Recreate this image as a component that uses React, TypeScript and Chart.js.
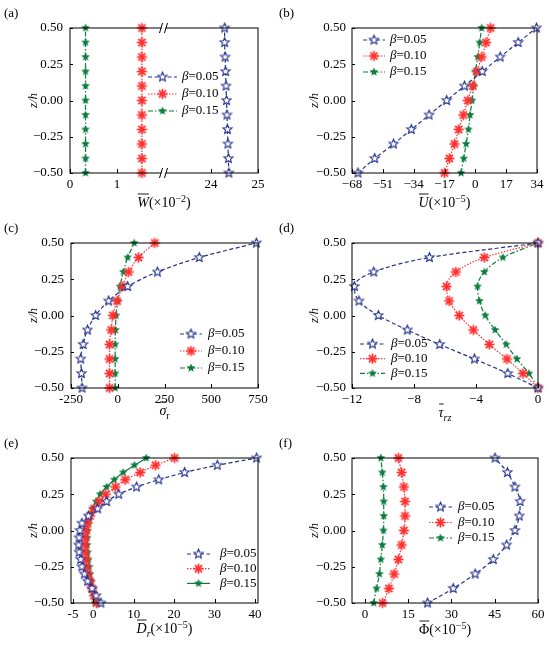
import React, { useEffect, useRef } from 'react';
import Chart from 'chart.js/auto';

// z/h positions of the markers
const zCoarse = [-0.5, -0.4, -0.3, -0.2, -0.1, 0, 0.1, 0.2, 0.3, 0.4, 0.5];
const zFine = [-0.5, -0.45, -0.4, -0.35, -0.3, -0.25, -0.2, -0.15, -0.1, -0.05, 0, 0.05, 0.1, 0.15, 0.2, 0.25, 0.3, 0.35, 0.4, 0.45, 0.5];
const zTicks = [-0.5, -0.25, 0, 0.25, 0.5];
const betaLabels = ['0.05', '0.10', '0.15'];

// (a) W (x1e-2), broken axis 0..2 // 23..25
const wB05 = [24.38, 24.37, 24.36, 24.35, 24.34, 24.33, 24.32, 24.31, 24.3, 24.29, 24.29];
const wB10 = [1.53, 1.53, 1.53, 1.53, 1.53, 1.53, 1.53, 1.53, 1.53, 1.53, 1.53];
const wB15 = [0.33, 0.33, 0.33, 0.33, 0.33, 0.33, 0.33, 0.33, 0.33, 0.33, 0.33];
const wTicks = [0, 1, 24, 25];

// (b) U (x1e-5)
const uB05 = [-64.7, -55.5, -45.1, -35.3, -25.5, -15.8, -6.0, 3.8, 13.7, 23.6, 33.7];
const uB10 = [-17.0, -14.3, -11.5, -9.2, -6.6, -4.2, -1.5, 0.9, 3.5, 5.9, 8.4];
const uB15 = [-7.9, -6.4, -5.1, -3.8, -2.9, -1.8, -0.9, 0.0, 1.3, 2.4, 3.5];
const uTicks = [-68, -51, -34, -17, 0, 17, 34];

// (c) sigma_r
const sB05 = [-191, -194, -198, -185, -162, -118, -49, 53, 212, 436, 741];
const sB10 = [-44, -44, -44, -44, -35, -26, -4, 26, 58, 111, 198];
const sB15 = [-14, -14, -14, -14, -12, -9, 0, 12, 30, 53, 88];
const sTicks = [-250, 0, 250, 500, 750];

// (d) tau_rz
const tB05 = [0, -1.95, -4.1, -6.34, -8.43, -10.3, -11.55, -11.85, -10.6, -7.0, 0];
const tB10 = [0, -0.97, -2.0, -3.14, -4.17, -5.08, -5.73, -5.9, -5.3, -3.46, 0];
const tB15 = [0, -0.58, -1.36, -2.05, -2.77, -3.4, -3.78, -3.9, -3.46, -2.27, 0];
const tTicks = [-12, -8, -4, 0];

// (e) D_r (x1e-5)
const dB05 = [1.9, 0.7, -0.3, -1.4, -2.2, -2.8, -3.1, -3.5, -3.6, -3.5, -3.3, -2.8, -1.2, 1.1, 3.3, 6.3, 10.7, 16.2, 22.6, 30.7, 40.4];
const dB10 = [0.8, 0.2, -0.3, -0.8, -1.3, -1.7, -1.8, -2.0, -2.1, -2.0, -1.8, -1.4, -0.8, 0.2, 1.5, 3.1, 5.5, 7.9, 11.6, 15.4, 20.1];
const dB15 = [0.5, 0.2, -0.2, -0.5, -0.8, -1.0, -1.2, -1.4, -1.5, -1.5, -1.4, -1.2, -0.8, -0.2, 0.7, 1.7, 3.3, 5.2, 7.4, 10.2, 13.1];
const dTicks = [-5, 0, 10, 20, 30, 40];

// (f) Phi (x1e-5)
const fB05 = [21.7, 30.6, 38.2, 44.5, 49.1, 52.0, 53.5, 53.8, 52.0, 49.4, 45.1];
const fB10 = [6.1, 8.3, 10.1, 11.6, 12.7, 13.5, 13.9, 13.9, 13.5, 12.7, 11.6];
const fB15 = [3.0, 4.0, 5.0, 5.5, 6.0, 6.4, 6.5, 6.5, 6.4, 6.0, 5.5];
const fTicks = [0, 15, 30, 45, 60];

const BLUE = '#24328f';
const RED = '#ff3030';
const GREEN = '#0b7d3e';
const SERIF = '"Liberation Serif", "Times New Roman", serif';
const font = (size: number, it?: boolean) => `${it ? 'italic ' : ''}${size}px ${SERIF}`;

function starMarker(R: number, filled: boolean, color: string) {
  const s = Math.ceil(R * 2 + 3);
  const c = document.createElement('canvas');
  c.width = s;
  c.height = s;
  const g = c.getContext('2d')!;
  g.translate(s / 2, s / 2);
  g.beginPath();
  for (let i = 0; i < 10; i++) {
    const r = i % 2 ? R * 0.45 : R;
    const a = -Math.PI / 2 + (i * Math.PI) / 5;
    g.lineTo(r * Math.cos(a), r * Math.sin(a));
  }
  g.closePath();
  if (filled) {
    g.fillStyle = color;
    g.fill();
  } else {
    g.fillStyle = '#fff';
    g.fill();
    g.strokeStyle = color;
    g.lineWidth = 1.1;
    g.stroke();
  }
  return c;
}

function asteriskMarker(R: number, color: string) {
  const s = Math.ceil(R * 2 + 3);
  const c = document.createElement('canvas');
  c.width = s;
  c.height = s;
  const g = c.getContext('2d')!;
  g.translate(s / 2, s / 2);
  g.strokeStyle = color;
  g.lineWidth = 1.8;
  for (let k = 0; k < 4; k++) {
    const a = (k * Math.PI) / 4;
    g.beginPath();
    g.moveTo(-R * Math.cos(a), -R * Math.sin(a));
    g.lineTo(R * Math.cos(a), R * Math.sin(a));
    g.stroke();
  }
  return c;
}

const markers = [starMarker(4.8, false, BLUE), asteriskMarker(5, RED), starMarker(4.5, true, GREEN)];
const dashes = [[4, 2.5], [1.5, 1.5], [5, 2, 1.5, 2]];
const colors = [BLUE, RED, GREEN];

type Seg = { t: string; it?: boolean; sup?: boolean; sub?: boolean; bar?: boolean };

type PanelSpec = {
  label: string;
  left: number;
  top: number;
  w: number;
  h: number;
  plotL: number;
  plotR: number;
  yTitleX: number;
  yPad: number;
  xMin: number;
  xMax: number;
  xTicks: number[];
  xFmt: (v: number) => string;
  xMap?: (v: number) => number;
  z: number[];
  series: number[][];
  title: Seg[];
  titleY: number;
  legend: { x0: number; x1: number; tx: number; y: number; dy: number };
  greenSolid?: boolean;
  brk?: number;
};

const minus = (v: number) => (v < 0 ? '\u2212' : '') + Math.abs(v);
const hyphen = (v: number) => String(v);
const breakMap = (v: number) => (v > 2 ? v - 21 : v);

const panels: PanelSpec[] = [
  {
    label: '(a)', left: 0, top: 0, w: 275, h: 215, plotL: 70, plotR: 258, yTitleX: 33.5, yPad: 7,
    xMin: 0, xMax: 4, xTicks: wTicks, xFmt: (v) => String(v > 2 ? v + 21 : v), xMap: breakMap,
    z: zCoarse, series: [wB05, wB10, wB15],
    title: [{ t: 'W', it: true, bar: true }, { t: '(\u00d710' }, { t: '\u22122', sup: true }, { t: ')' }],
    titleY: 207, legend: { x0: 148, x1: 177, tx: 182, y: 77, dy: 17 }, brk: 2,
  },
  {
    label: '(b)', left: 275, top: 0, w: 275, h: 215, plotL: 77, plotR: 262, yTitleX: 39.5, yPad: 6,
    xMin: -68, xMax: 34, xTicks: uTicks, xFmt: minus,
    z: zCoarse, series: [uB05, uB10, uB15],
    title: [{ t: 'U', it: true, bar: true }, { t: '(\u00d710' }, { t: '\u22125', sup: true }, { t: ')' }],
    titleY: 207, legend: { x0: 88, x1: 110, tx: 115, y: 40, dy: 16 },
  },
  {
    label: '(c)', left: 0, top: 215, w: 275, h: 215, plotL: 71, plotR: 258, yTitleX: 33.5, yPad: 7,
    xMin: -250, xMax: 750, xTicks: sTicks, xFmt: hyphen,
    z: zCoarse, series: [sB05, sB10, sB15],
    title: [{ t: '\u03c3', it: true, bar: true }, { t: 'r', sub: true }],
    titleY: 200, legend: { x0: 180, x1: 202, tx: 208, y: 119, dy: 17 },
  },
  {
    label: '(d)', left: 275, top: 215, w: 275, h: 215, plotL: 77, plotR: 263, yTitleX: 39.5, yPad: 6,
    xMin: -12, xMax: 0, xTicks: tTicks, xFmt: minus,
    z: zCoarse, series: [tB05, tB10, tB15],
    title: [{ t: '\u03c4', it: true, bar: true }, { t: 'rz', it: true, sub: true }],
    titleY: 202, legend: { x0: 85, x1: 110, tx: 116, y: 129, dy: 14.7 },
  },
  {
    label: '(e)', left: 0, top: 430, w: 275, h: 217, plotL: 71, plotR: 258, yTitleX: 33.5, yPad: 7,
    xMin: -5.5, xMax: 40.75, xTicks: dTicks, xFmt: hyphen,
    z: zFine, series: [dB05, dB10, dB15],
    title: [{ t: 'D', it: true, bar: true }, { t: 'r', it: true, sub: true }, { t: '(\u00d710' }, { t: '\u22125', sup: true }, { t: ')' }],
    titleY: 203, legend: { x0: 187, x1: 210, tx: 220, y: 124, dy: 14.7 }, greenSolid: true,
  },
  {
    label: '(f)', left: 275, top: 430, w: 275, h: 217, plotL: 77, plotR: 263, yTitleX: 39.5, yPad: 6,
    xMin: -4.5, xMax: 60, xTicks: fTicks, xFmt: hyphen,
    z: zCoarse, series: [fB05, fB10, fB15],
    title: [{ t: '\u03a6', bar: true }, { t: '(\u00d710' }, { t: '\u22125', sup: true }, { t: ')' }],
    titleY: 204, legend: { x0: 154, x1: 177, tx: 183, y: 77, dy: 15.5 },
  },
];

function drawRich(ctx: CanvasRenderingContext2D, segs: Seg[], cx: number, baseY: number) {
  const segFont = (s: Seg) => font(s.sup || s.sub ? 10 : 14, s.it);
  const widths = segs.map((s) => {
    ctx.font = segFont(s);
    return ctx.measureText(s.t).width;
  });
  const total = widths.reduce((a, b) => a + b, 0);
  let x = cx - total / 2;
  ctx.textAlign = 'left';
  ctx.textBaseline = 'alphabetic';
  segs.forEach((s, i) => {
    ctx.font = segFont(s);
    const dy = s.sup ? -5.5 : s.sub ? 3.5 : 0;
    ctx.fillText(s.t, x, baseY + dy);
    if (s.bar) {
      ctx.beginPath();
      ctx.lineWidth = 0.9;
      ctx.moveTo(x + 0.5, baseY - 13);
      ctx.lineTo(x + widths[i], baseY - 13);
      ctx.stroke();
    }
    x += widths[i];
  });
}

const decoPlugin = {
  id: 'deco',
  afterDraw(chart: any, _args: any, o: any) {
    const p: PanelSpec = o.spec;
    const { ctx, chartArea: a } = chart;
    const xs = chart.scales.x;
    const ys = chart.scales.y;
    ctx.save();
    ctx.strokeStyle = '#000';
    ctx.fillStyle = '#000';
    ctx.setLineDash([]);
    ctx.lineWidth = 1;
    ctx.strokeRect(a.left, a.top, a.right - a.left, a.bottom - a.top);

    // inward ticks
    ctx.beginPath();
    xs.ticks.forEach((t: any) => {
      const px = Math.round(xs.getPixelForValue(t.value)) + 0.5;
      ctx.moveTo(px, a.bottom);
      ctx.lineTo(px, a.bottom - 4);
    });
    ys.ticks.forEach((t: any) => {
      const py = Math.round(ys.getPixelForValue(t.value)) + 0.5;
      ctx.moveTo(a.left, py);
      ctx.lineTo(a.left + 3, py);
    });
    ctx.stroke();

    // axis break
    if (p.brk !== undefined) {
      const px = xs.getPixelForValue(p.brk);
      [a.top, a.bottom].forEach((y: number) => {
        ctx.fillStyle = '#fff';
        ctx.fillRect(px - 2.5, y - 1.5, 4, 3);
        ctx.beginPath();
        ctx.moveTo(px - 4.5, y + 5);
        ctx.lineTo(px - 1.5, y - 5);
        ctx.moveTo(px + 0.5, y + 5);
        ctx.lineTo(px + 3.5, y - 5);
        ctx.stroke();
      });
      ctx.fillStyle = '#000';
    }

    // panel label
    ctx.font = font(13);
    ctx.textAlign = 'left';
    ctx.textBaseline = 'middle';
    ctx.fillText(p.label, 4, 14);

    // y title
    ctx.save();
    ctx.translate(p.yTitleX, (a.top + a.bottom) / 2);
    ctx.rotate(-Math.PI / 2);
    ctx.textAlign = 'center';
    ctx.textBaseline = 'middle';
    ctx.font = font(13, true);
    ctx.fillText('z/h', 0, 0);
    ctx.restore();

    // x title
    drawRich(ctx, p.title, (a.left + a.right) / 2, p.titleY);

    // legend
    const L = p.legend;
    betaLabels.forEach((b, i) => {
      const y = L.y + i * L.dy;
      ctx.strokeStyle = colors[i];
      ctx.lineWidth = 1.2;
      ctx.setLineDash(i === 2 && p.greenSolid ? [] : dashes[i]);
      ctx.beginPath();
      ctx.moveTo(L.x0, y);
      ctx.lineTo(L.x1, y);
      ctx.stroke();
      ctx.setLineDash([]);
      const m = markers[i];
      ctx.drawImage(m, (L.x0 + L.x1) / 2 - m.width / 2, y - m.height / 2);
      ctx.fillStyle = '#000';
      ctx.textAlign = 'left';
      ctx.textBaseline = 'middle';
      ctx.font = font(13, true);
      ctx.fillText('\u03b2', L.tx, y);
      const bw = ctx.measureText('\u03b2').width;
      ctx.font = font(13);
      ctx.fillText('=' + b, L.tx + bw, y);
    });
    ctx.restore();
  },
};

const Panel = ({ p }: { p: PanelSpec }) => {
  const canvasDom = useRef<HTMLCanvasElement>(null);
  useEffect(() => {
    if (!canvasDom.current) {
      return;
    }
    const map = p.xMap || ((v: number) => v);
    const datasets = p.series.map((vals, i) => ({
      label: '\u03b2=' + betaLabels[i],
      data: p.z.map((z, k) => ({ x: map(vals[k]), y: z })),
      borderColor: colors[i],
      backgroundColor: colors[i],
      borderWidth: 1.2,
      borderDash: i === 2 && p.greenSolid ? [] : dashes[i],
      pointStyle: markers[i],
      pointRadius: 4,
      cubicInterpolationMode: 'monotone' as const,
      clip: false as const,
    }));
    const xTickVals = p.xMap ? p.xTicks.map(p.xMap) : p.xTicks;
    const myChart = new Chart(canvasDom.current, {
      type: 'line',
      data: { datasets },
      plugins: [decoPlugin],
      options: {
        responsive: false,
        animation: false,
        indexAxis: 'y',
        layout: { padding: { left: 0, right: p.w - p.plotR, top: 28, bottom: 0 }, autoPadding: false },
        plugins: {
          legend: { display: false },
          tooltip: { enabled: false },
          deco: { spec: p },
        } as any,
        scales: {
          x: {
            type: 'linear',
            min: p.xMin,
            max: p.xMax,
            grid: { display: false, drawTicks: false },
            border: { display: false },
            ticks: {
              color: '#000',
              font: { family: SERIF, size: 13 },
              padding: 4,
              autoSkip: false,
              maxRotation: 0,
              minRotation: 0,
              callback: (v: any) => p.xFmt(Number(v)),
            },
            afterBuildTicks: (s: any) => {
              s.ticks = xTickVals.map((v) => ({ value: v }));
            },
            afterFit: (s: any) => {
              s.height = p.h - 173;
              s.paddingLeft = 0;
              s.paddingRight = 0;
            },
          },
          y: {
            type: 'linear',
            min: -0.5,
            max: 0.5,
            grid: { display: false, drawTicks: false },
            border: { display: false },
            ticks: {
              color: '#000',
              font: { family: SERIF, size: 13 },
              padding: p.yPad,
              autoSkip: false,
              callback: (v: any) => {
                const n = Number(v);
                return (n < 0 ? '\u2212' : '') + Math.abs(n).toFixed(2);
              },
            },
            afterBuildTicks: (s: any) => {
              s.ticks = zTicks.map((v) => ({ value: v }));
            },
            afterFit: (s: any) => {
              s.width = p.plotL;
              s.paddingTop = 0;
              s.paddingBottom = 0;
            },
          },
        },
      },
    });
    return () => {
      myChart.destroy();
    };
  }, []);

  return (
    <div style={{ position: 'absolute', left: p.left, top: p.top, width: p.w, height: p.h }}>
      <canvas ref={canvasDom} width={p.w} height={p.h} style={{ width: p.w, height: p.h }}></canvas>
    </div>
  );
};

const App = () => {
  return (
    <div style={{ position: 'absolute', left: 0, top: 0, width: 550, height: 647, background: '#fff' }}>
      {panels.map((p) => (
        <Panel key={p.label} p={p} />
      ))}
    </div>
  );
};

export default App;
